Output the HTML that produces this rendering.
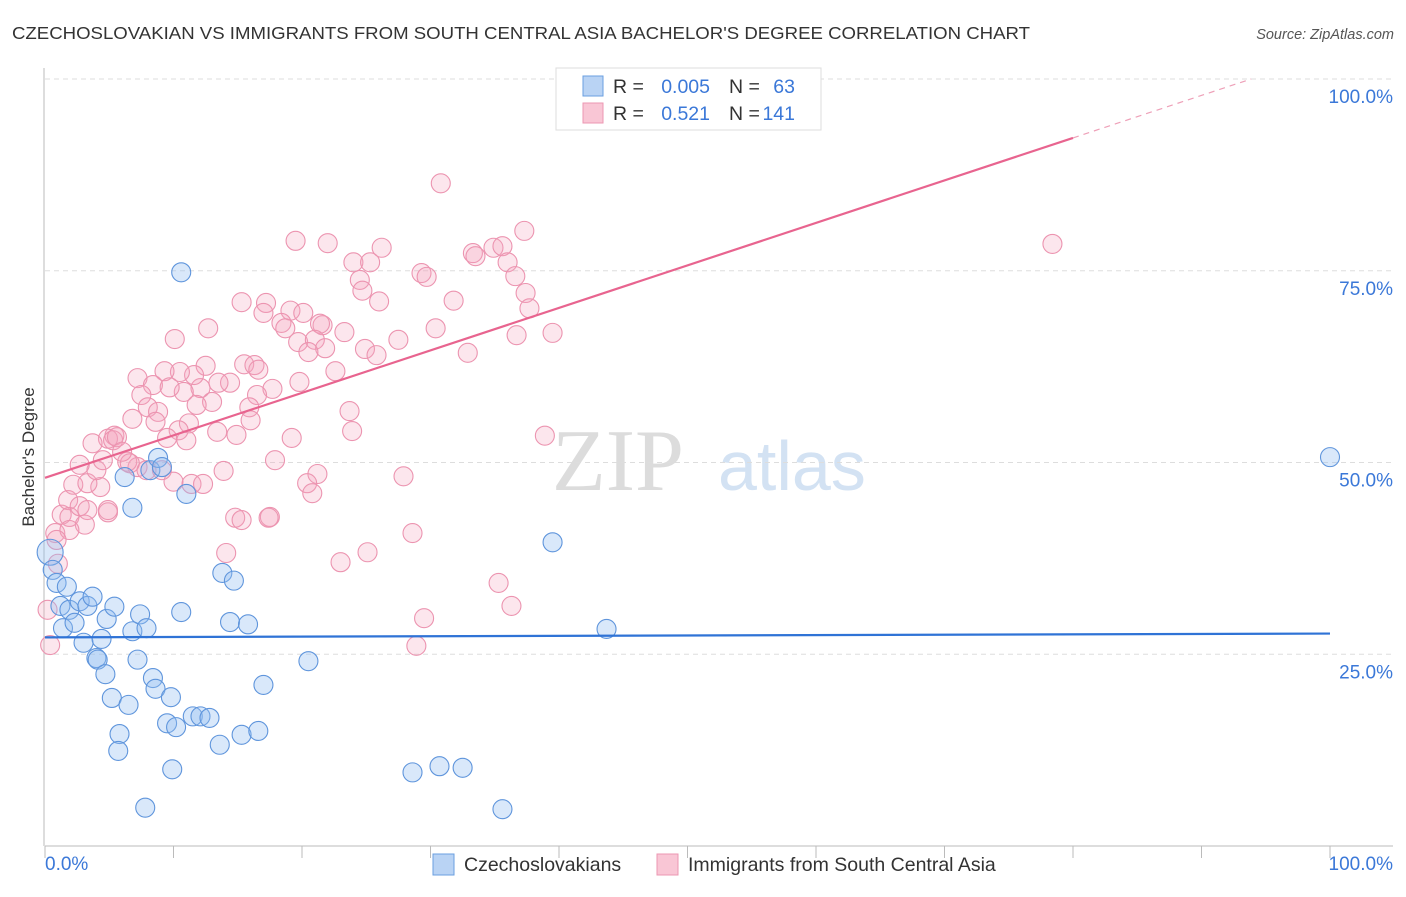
<!DOCTYPE html>
<html><head><meta charset="utf-8"><style>
body{margin:0;background:#fff;font-family:"Liberation Sans",sans-serif;}
svg text{font-family:"Liberation Sans",sans-serif;}
</style></head><body>
<svg id="chart" width="1406" height="892">
<text x="12" y="39" font-size="17.5" fill="#333" textLength="1018" lengthAdjust="spacingAndGlyphs">CZECHOSLOVAKIAN VS IMMIGRANTS FROM SOUTH CENTRAL ASIA BACHELOR'S DEGREE CORRELATION CHART</text>
<text x="1394" y="39" font-size="14.5" fill="#555" font-style="italic" text-anchor="end">Source: ZipAtlas.com</text>
<text x="552" y="490" font-size="88" fill="#dcdcdc" style="font-family:'Liberation Serif',serif">ZIP</text>
<text x="718" y="490" font-size="70" fill="#d3e2f3">atlas</text>
<g id="grid"></g>
<g id="marks"></g>
<text transform="translate(34,457) rotate(-90)" font-size="17" fill="#333" text-anchor="middle">Bachelor's Degree</text>
<g>
<rect x="556" y="68" width="265" height="62" fill="#fff" stroke="#ddd"/>
<rect x="583" y="76" width="20" height="20" fill="#b9d3f4" stroke="#6a9fe0"/>
<rect x="583" y="103" width="20" height="20" fill="#f9c6d5" stroke="#ec97b2"/>
<text x="613" y="93" font-size="19.5" fill="#333">R =</text>
<text x="710" y="93" font-size="19.5" fill="#3b78d8" text-anchor="end">0.005</text>
<text x="729" y="93" font-size="19.5" fill="#333">N =</text>
<text x="795" y="93" font-size="19.5" fill="#3b78d8" text-anchor="end">63</text>
<text x="613" y="120" font-size="19.5" fill="#333">R =</text>
<text x="710" y="120" font-size="19.5" fill="#3b78d8" text-anchor="end">0.521</text>
<text x="729" y="120" font-size="19.5" fill="#333">N =</text>
<text x="795" y="120" font-size="19.5" fill="#3b78d8" text-anchor="end">141</text>
</g>
<g>
<rect x="433" y="854" width="21" height="21" fill="#b9d3f4" stroke="#6a9fe0"/>
<text x="464" y="871" font-size="19.5" fill="#333">Czechoslovakians</text>
<rect x="657" y="854" width="21" height="21" fill="#f9c6d5" stroke="#ec97b2"/>
<text x="688" y="871" font-size="19.5" fill="#333">Immigrants from South Central Asia</text>
</g>
</svg>
<script>
const blueX=[0.4,0.6,0.9,1.2,1.7,1.4,1.9,2.3,2.7,3.0,3.3,3.7,4.0,4.1,4.4,4.7,4.8,5.2,5.4,5.8,5.7,6.2,6.5,6.8,6.8,7.2,7.4,7.9,8.2,8.4,8.6,8.8,9.1,9.5,9.8,9.9,10.2,10.6,10.6,11.0,11.5,12.1,12.8,13.6,13.8,14.4,14.7,15.3,15.8,16.6,17.0,20.5,7.8,28.6,30.7,32.5,35.6,39.5,43.7,100];
const blueY=[38.3,36.0,34.3,31.3,33.8,28.4,30.8,29.1,31.9,26.5,31.3,32.5,24.5,24.3,27.0,22.4,29.6,19.3,31.2,14.6,12.4,48.1,18.4,44.1,28.0,24.3,30.2,28.4,49.0,21.9,20.5,50.6,49.4,16.0,19.4,10.0,15.5,74.8,30.5,45.9,16.9,16.9,16.7,13.2,35.6,29.2,34.6,14.5,28.9,15.0,21.0,24.1,5.0,9.6,10.4,10.2,4.8,39.6,28.3,50.7];
const pinkX=[30.8,19.5,22.0,26.2,24.0,25.3,24.5,24.7,26.0,29.3,29.7,33.3,33.5,34.9,35.6,37.3,36.0,36.6,37.4,37.7,36.7,39.5,31.8,30.4,32.9,27.5,23.3,24.9,25.8,22.6,19.8,21.6,21.4,19.1,20.1,18.4,18.7,19.7,21.0,21.8,20.5,15.3,17.2,17.0,12.7,10.1,12.5,15.5,16.3,16.6,17.7,16.5,15.9,16.0,14.4,13.5,12.1,13.0,11.8,10.8,11.6,10.5,9.3,7.2,8.4,9.7,7.5,8.0,8.8,6.8,8.6,11.2,10.4,11.0,9.5,13.4,14.9,19.2,23.7,23.9,38.9,5.4,4.9,17.9,13.9,27.9,21.2,20.4,20.8,10.0,11.4,12.3,4.9,14.8,17.5,4.3,7.2,7.9,9.1,6.4,78.4,28.6,29.5,28.9,35.3,36.3,23.0,25.1,14.1,15.3,17.4,0.4,0.2,1.0,0.8,1.3,1.8,2.2,3.3,4.0,2.7,3.7,4.5,1.9,2.7,4.9,3.3,5.3,5.6,6.6,6.0,3.1,1.9,0.9];
const pinkY=[86.4,78.9,78.6,78.0,76.1,76.1,73.8,72.4,71.0,74.7,74.2,77.3,76.9,78.0,78.2,80.2,76.1,74.3,72.1,70.1,66.6,66.9,71.1,67.5,64.3,66.0,67.0,64.8,64.0,61.9,60.5,67.9,68.1,69.8,69.5,68.2,67.5,65.7,66.0,64.9,64.4,70.9,70.8,69.5,67.5,66.1,62.6,62.8,62.7,62.1,59.6,58.8,57.2,55.5,60.4,60.4,59.7,57.9,57.5,59.2,61.4,61.8,61.9,61.0,60.1,59.8,58.8,57.2,56.6,55.7,55.3,55.1,54.2,52.9,53.2,54.0,53.6,53.2,56.7,54.1,53.5,53.5,53.1,50.3,48.9,48.2,48.5,47.3,46.0,47.5,47.2,47.2,43.5,42.8,42.9,46.8,49.4,49.0,49.0,50.1,78.5,40.8,29.7,26.1,34.3,31.3,37.0,38.3,38.2,42.5,42.8,26.2,30.8,36.8,40.8,43.2,45.1,47.1,47.3,49.0,49.7,52.5,50.3,42.9,44.3,43.8,43.8,52.9,53.3,49.9,51.4,41.9,41.2,39.9];
const blueTrend=[27.2,27.7];
const pinkTrend=[48.0,103.4];
const yTicks=[25,50,75,100];
const yTickLabels=["25.0%","50.0%","75.0%","100.0%"];
const xTicks=[0,10,20,30,40,50,60,70,80,90,100];

const NS="http://www.w3.org/2000/svg";
const X=v=>45+v*12.85, Y=v=>846-v*7.67;
function mk(t,a,p){const e=document.createElementNS(NS,t);for(const k in a)e.setAttribute(k,a[k]);p.appendChild(e);return e;}
const grid=document.getElementById('grid'), marks=document.getElementById('marks');
yTicks.forEach((t,i)=>{
 const l=mk('line',{x1:45,x2:1393,y1:Y(t),y2:Y(t),stroke:'#ddd','stroke-dasharray':'5,4'},grid);
 
 
 const tx=mk('text',{x:1393,y:Y(t)+24,'font-size':19,fill:'#3b78d8','text-anchor':'end'},grid);
 tx.textContent=yTickLabels[i];
 
 
});
const ax=mk('line',{x1:44,x2:44,y1:68,y2:846,stroke:'#bbb'},grid);


const bx=mk('line',{x1:45,x2:1393,y1:846,y2:846,stroke:'#bbb'},grid);


xTicks.forEach(t=>{
 const l=mk('line',{x1:X(t),x2:X(t),y1:846,y2:858,stroke:'#bbb'},grid);
 
 
});
const x0=mk('text',{x:45,y:870,'font-size':19,fill:'#3b78d8'},grid);x0.textContent='0.0%';


const x1=mk('text',{x:1393,y:870,'font-size':19,fill:'#3b78d8','text-anchor':'end'},grid);x1.textContent='100.0%';



pinkX.forEach((v,i)=>{
 const c=mk('circle',{cx:X(v),cy:Y(pinkY[i]),r:9.5,fill:'rgba(245,165,190,0.28)',stroke:'#ec94b0','stroke-width':1.1},marks);
 
 
});
blueX.forEach((v,i)=>{
 const c=mk('circle',{cx:X(v),cy:Y(blueY[i]),r:i===0?13:9.5,fill:'rgba(145,188,240,0.35)',stroke:'#5f95dc','stroke-width':1.1},marks);
 
 
});
const bl=mk('line',{x1:X(0),y1:Y(blueTrend[0]),x2:X(100),y2:Y(blueTrend[1]),stroke:'#2f73d6','stroke-width':2.2},marks);


const slope=(pinkTrend[1]-pinkTrend[0])/100;
const pAt=x=>pinkTrend[0]+slope*x;
const xEnd=Math.min(100,(100-pinkTrend[0])/slope);
const pl=mk('line',{x1:X(0),y1:Y(pAt(0)),x2:X(80),y2:Y(pAt(80)),stroke:'#e8648f','stroke-width':2.2},marks);


const pd=mk('line',{x1:X(80),y1:Y(pAt(80)),x2:X(xEnd),y2:Y(pAt(xEnd)),stroke:'#eea0b8','stroke-width':1.2,'stroke-dasharray':'6,5'},marks);


</script>
</body></html>
